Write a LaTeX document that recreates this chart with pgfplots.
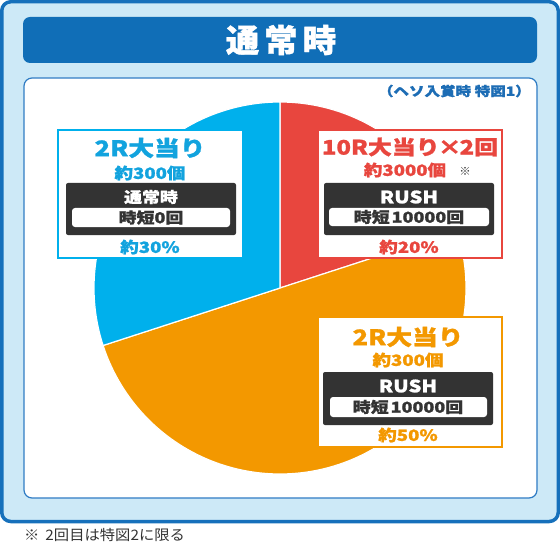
\documentclass[border=0pt]{standalone}
\usepackage{pgfplots}
\pgfplotsset{compat=1.18}
\usepackage{pgfplotstable}
\usepackage{fontspec}
\setmainfont{Noto Sans CJK JP}
\newfontfamily\jpw{Noto Sans CJK JP}[FakeStretch=1.2, BoldFont={Noto Sans CJK JP Black}, BoldFeatures={FakeBold=1.2}]
\newfontfamily\jpt{Noto Sans CJK JP}[FakeStretch=1.05, BoldFont={Noto Sans CJK JP Black}, BoldFeatures={FakeBold=1.2}]
\newfontfamily\jpn{Noto Sans CJK JP}[FakeStretch=1.06]
\newcommand\fs[1]{\fontsize{#1}{#1}\selectfont}
\definecolor{pieRed}{HTML}{E8463E}
\definecolor{pieOrange}{HTML}{F39800}
\definecolor{pieBlue}{HTML}{00B0EC}
\definecolor{txtBlue}{HTML}{12A3DE}
\definecolor{panelFill}{HTML}{CDE9F7}
\definecolor{panelLine}{HTML}{1670BB}
\definecolor{titleBar}{HTML}{106EB7}
\definecolor{innerLine}{HTML}{2F7CC4}
\definecolor{noteBlue}{HTML}{1D6DB5}
\definecolor{darkBox}{HTML}{333333}

\pgfplotstableread{
label share
R 20
O 50
B 30
}\piedata

\begin{document}
\begin{tikzpicture}
\pgfplotstablegetelem{0}{share}\of\piedata \pgfmathsetmacro\sA{\pgfplotsretval}
\pgfplotstablegetelem{1}{share}\of\piedata \pgfmathsetmacro\sB{\pgfplotsretval}
\pgfplotstablegetelem{2}{share}\of\piedata \pgfmathsetmacro\sC{\pgfplotsretval}
\pgfmathsetmacro\aZero{90}
\pgfmathsetmacro\aOne{\aZero-3.6*\sA}
\pgfmathsetmacro\aTwo{\aOne-3.6*\sB}
\pgfmathsetmacro\aThree{\aTwo-3.6*\sC}

\begin{scope}[x=1bp,y=-1bp]
\path[use as bounding box] (0,0) rectangle (560,543);
\draw[line width=3.5bp, draw=panelLine, fill=panelFill, rounded corners=9bp] (1.75,1.75) rectangle (558.25,521.5);
\fill[titleBar, rounded corners=7bp] (23,17) rectangle (537,63);
\draw[line width=1.2bp, draw=innerLine, fill=white, rounded corners=8bp] (24,78) rectangle (537,498);
\node[text=white, font=\jpt\bfseries\fs{32}] at (281,40) {通\hspace{5pt}常\hspace{5pt}時};
\node[anchor=east, text=noteBlue, font=\jpw\bfseries\fs{13}, inner sep=0pt] at (531,91) {（ヘソ入賞時 特図1）};
\node[anchor=west, text=darkBox, font=\jpn\fs{14.5}, inner sep=0pt] at (24,535) {※\hspace{6pt}2回目は特図2に限る};
\end{scope}

\begin{axis}[at={(280bp,-288bp)}, anchor=center, width=372bp, height=372bp,
  scale only axis, xmin=-1, xmax=1, ymin=-1, ymax=1, hide axis, clip=false]
\addplot[fill=pieRed, draw=white, line width=1.2pt, domain=\aOne:\aZero, samples=80, variable=\t]
  ({cos(\t)},{sin(\t)}) -- (axis cs:0,0) -- cycle;
\addplot[fill=pieOrange, draw=white, line width=1.2pt, domain=\aTwo:\aOne, samples=120, variable=\t]
  ({cos(\t)},{sin(\t)}) -- (axis cs:0,0) -- cycle;
\addplot[fill=pieBlue, draw=white, line width=1.2pt, domain=\aThree:\aTwo, samples=100, variable=\t]
  ({cos(\t)},{sin(\t)}) -- (axis cs:0,0) -- cycle;
\end{axis}

\begin{scope}[x=1bp,y=-1bp]
% blue label
\draw[line width=2.5bp, draw=pieBlue, fill=white] (58,130) rectangle (243,258);
\node[text=txtBlue, font=\jpw\bfseries\fs{21.5}] at (150,148) {2R大当り};
\node[text=txtBlue, font=\jpw\bfseries\fs{15.5}] at (150,173) {約300個};
\fill[darkBox, rounded corners=2bp] (66,183) rectangle (236,235);
\node[text=white, font=\jpw\bfseries\fs{15}] at (151,197) {通常時};
\fill[white, rounded corners=3bp] (72,208) rectangle (230,227);
\node[text=darkBox, font=\jpw\bfseries\fs{15}] at (151,217.5) {時短0回};
\node[text=txtBlue, font=\jpw\bfseries\fs{15.5}] at (150,247) {約30\%};
% red label
\draw[line width=2.5bp, draw=pieRed, fill=white] (318,130) rectangle (502,258);
\node[text=pieRed, font=\jpw\bfseries\fs{20}] at (410,147) {10R大当り\kern-2pt×\kern-2pt 2回};
\node[text=pieRed, font=\jpw\bfseries\fs{15.5}] at (405,170) {約3000個};
\node[text=darkBox, font=\jpt\fs{11}] at (465,171) {※};
\fill[darkBox, rounded corners=2bp] (324,183) rectangle (494,235);
\node[text=white, font=\jpw\bfseries\fs{17}] at (409,197) {RUSH};
\fill[white, rounded corners=3bp] (329,208) rectangle (489,226);
\node[text=darkBox, font=\jpw\bfseries\fs{15}] at (409,217) {時短\hspace{2pt}10000回};
\node[text=pieRed, font=\jpw\bfseries\fs{15.5}] at (409,247) {約20\%};
% orange label
\draw[line width=2.5bp, draw=pieOrange, fill=white] (318,317) rectangle (502,447);
\node[text=pieOrange, font=\jpw\bfseries\fs{21.5}] at (408,337) {2R大当り};
\node[text=pieOrange, font=\jpw\bfseries\fs{15.5}] at (408,360) {約300個};
\fill[darkBox, rounded corners=2bp] (323,372) rectangle (493,425);
\node[text=white, font=\jpw\bfseries\fs{17}] at (408,386) {RUSH};
\fill[white, rounded corners=3bp] (330,397) rectangle (487,417);
\node[text=darkBox, font=\jpw\bfseries\fs{15}] at (408,407) {時短\hspace{2pt}10000回};
\node[text=pieOrange, font=\jpw\bfseries\fs{15.5}] at (408,435) {約50\%};
\end{scope}
\end{tikzpicture}
\end{document}
